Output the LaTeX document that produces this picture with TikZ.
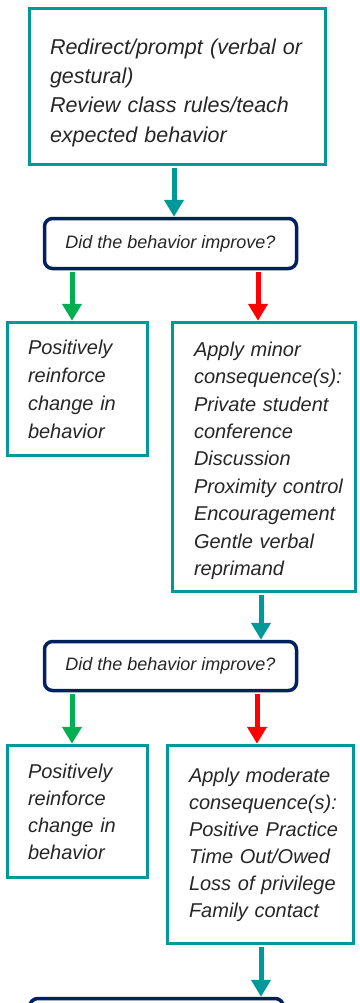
\documentclass[tikz,border=0pt]{standalone}
\usepackage{fontspec}
\setmainfont{Liberation Sans}
\usetikzlibrary{arrows.meta,calc}
\definecolor{tealc}{HTML}{009999}
\definecolor{navyc}{HTML}{002060}
\definecolor{greenc}{HTML}{00B050}
\definecolor{redc}{HTML}{FF0000}
\definecolor{txtc}{HTML}{262626}
\newcommand{\nohyph}{\hyphenpenalty=10000\relax}
\begin{document}
\begin{tikzpicture}[x=1pt,y=-1pt,
  actbox/.style={draw=tealc, line width=3.5pt, fill=white, inner sep=0pt, align=left, text=txtc},
  askbox/.style={draw=navyc, line width=3.5pt, rounded corners=8pt, fill=white, inner sep=0pt, text=txtc, font=\fontsize{18}{21}\selectfont\itshape},
  flow/.style={line width=5pt, -{Triangle[width=19pt,length=17pt]}, shorten <=1.75pt},
]
\fill[white] (0,0) rectangle (359,1003);
\useasboundingbox (0,0) rectangle (359,1003);
\clip (0,0) rectangle (359,1003);

\node[actbox, minimum width=296pt, minimum height=156pt, text width=255pt,
      font=\fontsize{21.5}{29.3}\selectfont\itshape\nohyph] (box1) at (177.5,86.5)
  {\rule{0pt}{28pt}Redirect/prompt (verbal~or\\gestural)\\Review class~rules/teach\\expected behavior};

\node[askbox, minimum width=252pt, minimum height=50pt] (dec1) at (170.5,243.5)
  {Did the behavior improve?};

\node[actbox, minimum width=140pt, minimum height=133pt, text width=99pt,
      font=\fontsize{20}{28}\selectfont\itshape\nohyph] (left1) at (77.5,389)
  {Positively\\reinforce\\change~in\\behavior};

\node[actbox, minimum width=183pt, minimum height=269pt, text width=140pt,
      font=\fontsize{20}{27.4}\selectfont\itshape\nohyph] (right1) at (264,457)
  {\rule{0pt}{22pt}Apply~minor\\consequence(s):\\Private~student\\conference\\Discussion\\Proximity~control\\Encouragement\\Gentle~verbal\\reprimand};

\node[askbox, minimum width=252pt, minimum height=49pt] (dec2) at (170.5,666)
  {Did the behavior improve?};

\node[actbox, minimum width=140pt, minimum height=132pt, text width=99pt,
      font=\fontsize{20}{27}\selectfont\itshape\nohyph] (left2) at (77.5,811.5)
  {Positively\\reinforce\\change~in\\behavior};

\node[actbox, minimum width=186pt, minimum height=198pt, text width=143pt,
      font=\fontsize{20}{27}\selectfont\itshape\nohyph] (right2) at (260.5,844.5)
  {Apply~moderate\\consequence(s):\\Positive~Practice\\Time~Out/Owed\\Loss~of~privilege\\Family~contact};

\node[askbox, minimum width=253.5pt, minimum height=60pt, anchor=north] (dec3) at (156.5,996.75) {};

\draw[flow, tealc] ([xshift=-3.5pt]box1.south) -- ([xshift=-3.5pt]box1.south |- dec1.north);
\draw[flow, greenc] ([xshift=-5.5pt]left1.north |- dec1.south) -- ([xshift=-5.5pt]left1.north);
\draw[flow, redc] ([xshift=-6pt]right1.north |- dec1.south) -- ([xshift=-6pt]right1.north);
\draw[flow, tealc] ([xshift=-3pt]right1.south) -- ([xshift=-3pt]right1.south |- dec2.north);
\draw[flow, greenc] ([xshift=-5.5pt]left2.north |- dec2.south) -- ([xshift=-5.5pt]left2.north);
\draw[flow, redc] ([xshift=-3.5pt]right2.north |- dec2.south) -- ([xshift=-3.5pt]right2.north);
\draw[flow, tealc] ([xshift=0.5pt]right2.south) -- ([xshift=0.5pt]right2.south |- dec3.north);
\end{tikzpicture}
\end{document}
